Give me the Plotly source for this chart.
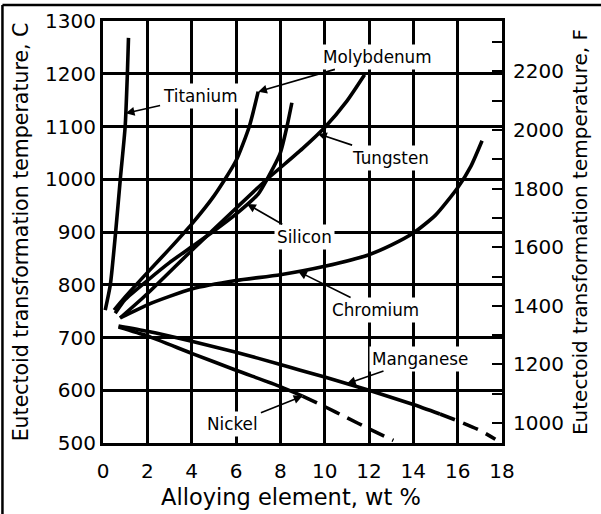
import numpy as np
import plotly.graph_objects as go

# Eutectoid temperature (deg C) versus alloy content (wt %)
ti_w = [0.10, 0.33, 0.57, 0.78, 1.00, 1.10, 1.15]
ti_c = [752, 800, 900, 1000, 1100, 1200, 1268]

mo_w = [0.50, 1.0, 2.0, 3.0, 4.0, 5.0, 6.0, 6.6, 7.0]
mo_c = [752, 777, 823, 868, 915, 968, 1035, 1100, 1166]

si_w = [0.55, 1.0, 2.0, 3.0, 4.0, 5.0, 6.0, 7.0, 7.4, 8.0, 8.3, 8.52]
si_c = [746, 772, 808, 842, 872, 902, 934, 972, 1000, 1050, 1100, 1145]

w_w = [0.77, 2.0, 4.0, 6.0, 7.4, 9.0, 10.0, 11.0, 11.8]
w_c = [737, 783, 865, 945, 1000, 1058, 1098, 1148, 1198]

cr_w = [0.77, 2.0, 3.0, 4.0, 6.0, 8.0, 10.0, 12.0, 13.0, 14.0, 15.0, 16.0, 16.6, 17.1]
cr_c = [737, 762, 778, 792, 808, 819, 835, 857, 875, 898, 932, 984, 1025, 1073]

mn_w = [0.7, 2.0, 4.0, 6.0, 8.0, 8.9, 10.0, 12.0, 14.0, 15.2, 16.0, 17.0, 17.7]
mn_c = [722, 712, 693, 672, 649, 638, 625, 600, 573, 555, 542, 524, 507]
mn_dashed_from = 15.2

ni_w = [0.7, 2.0, 4.0, 6.0, 8.0, 9.0, 10.0, 11.0, 12.0, 13.1]
ni_c = [720, 703, 670, 638, 607, 589, 569, 548, 527, 505]
ni_dashed_from = 9.0

x_ticks = list(range(0, 19, 2))
c_ticks = list(range(500, 1301, 100))
f_ticks = list(range(1000, 2301, 100))
f_labelled = list(range(1000, 2201, 200))

C_RANGE = [500, 1300]
X_RANGE = [0, 18]


def c_to_f(c):
    return c * 9.0 / 5.0 + 32.0


FONT = "DejaVu Sans"
CURVE_WIDTH = 3.6

fig = go.Figure()


def add_curve(w, c, dash=None):
    fig.add_trace(go.Scatter(
        x=w, y=c, mode="lines", showlegend=False, hoverinfo="skip",
        line=dict(color="black", width=CURVE_WIDTH, shape="spline",
                  smoothing=0.6, dash=dash or "solid")))


def add_split_curve(w, c, split):
    w = np.asarray(w)
    c = np.asarray(c)
    solid = w <= split
    dashed = w >= split
    add_curve(w[solid], c[solid])
    add_curve(w[dashed], c[dashed], dash="16px,9px")


add_curve(ti_w, ti_c)
add_curve(mo_w, mo_c)
add_curve(si_w, si_c)
add_curve(w_w, w_c)
add_curve(cr_w, cr_c)
add_split_curve(mn_w, mn_c, mn_dashed_from)
add_split_curve(ni_w, ni_c, ni_dashed_from)


def on_curve(w, c, at_w):
    return at_w, float(np.interp(at_w, w, c))


def on_curve_t(w, c, at_c):
    return float(np.interp(at_c, c, w)), at_c


# (name, label centre, point the leader touches)
labels = [
    ("Titanium", (4.38, 1157), on_curve_t(ti_w, ti_c, 1125)),
    ("Molybdenum", (12.4, 1232), (mo_w[-1], mo_c[-1])),
    ("Tungsten", (12.95, 1041), on_curve(w_w, w_c, 9.7)),
    ("Silicon", (9.07, 891), on_curve(si_w, si_c, 6.5)),
    ("Chromium", (12.3, 752), on_curve(cr_w, cr_c, 8.8)),
    ("Manganese", (14.3, 660), on_curve(mn_w, mn_c, 11.0)),
    ("Nickel", (5.86, 536), on_curve(ni_w, ni_c, 9.0)),
]

annotations = []
for name, (tx, ty), (px, py) in labels:
    annotations.append(dict(
        x=px, y=py, xref="x", yref="y",
        ax=tx, ay=ty, axref="x", ayref="y",
        text=name, showarrow=True, arrowhead=2, arrowsize=1.1,
        arrowwidth=1.6, arrowcolor="black", standoff=0,
        bgcolor="white", borderpad=2,
        font=dict(family=FONT, size=16.8, color="black")))

# horizontal axis title
annotations.append(dict(
    text="Alloying element, wt %", xref="paper", yref="paper",
    x=0.471, y=-0.128, xanchor="center", yanchor="middle",
    showarrow=False, font=dict(family=FONT, size=22.5, color="black")))

fig.update_layout(
    width=601, height=514,
    margin=dict(l=103, r=99, t=21, b=71, autoexpand=False),
    paper_bgcolor="white", plot_bgcolor="white",
    font=dict(family=FONT, size=20, color="black"),
    annotations=annotations,
    xaxis=dict(
        range=X_RANGE, tickvals=x_ticks, ticks="", showgrid=True,
        gridcolor="black", gridwidth=2.5, zeroline=False,
        showline=True, linecolor="black", linewidth=3, mirror=True,
        ticklabelstandoff=8,
        tickfont=dict(family=FONT, size=20)),
    yaxis=dict(
        range=C_RANGE, tickvals=c_ticks, ticks="", showgrid=True,
        gridcolor="black", gridwidth=2.5, zeroline=False,
        showline=True, linecolor="black", linewidth=3, mirror=True,
        title=dict(text="Eutectoid transformation temperature, C",
                   standoff=11, font=dict(family=FONT, size=20.5)),
        tickfont=dict(family=FONT, size=20)),
    yaxis2=dict(
        overlaying="y", side="right", anchor="x",
        range=[c_to_f(C_RANGE[0]), c_to_f(C_RANGE[1])],
        tickmode="array", tickvals=f_ticks,
        ticktext=[str(v) if v in f_labelled else "" for v in f_ticks],
        ticks="inside", ticklen=10, tickwidth=2.2, tickcolor="black",
        ticklabelstandoff=4, layer="above traces",
        showgrid=False, zeroline=False,
        showline=True, linecolor="black", linewidth=3,
        title=dict(text="Eutectoid transformation temperature, F",
                   standoff=11, font=dict(family=FONT, size=20)),
        tickfont=dict(family=FONT, size=20)),
    shapes=[
        dict(type="line", xref="paper", yref="paper",
             x0=-0.252, y0=1.038, x1=1.25, y1=1.038,
             line=dict(color="black", width=2.5)),
        dict(type="line", xref="paper", yref="paper",
             x0=-0.252, y0=1.038, x1=-0.252, y1=-0.17,
             line=dict(color="black", width=2.5)),
    ],
)

# keep the Fahrenheit scale attached to the plot
fig.add_trace(go.Scatter(
    x=X_RANGE, y=[c_to_f(v) for v in C_RANGE], yaxis="y2",
    mode="lines", line=dict(width=0), showlegend=False, hoverinfo="skip"))

fig.write_html("out.html")
